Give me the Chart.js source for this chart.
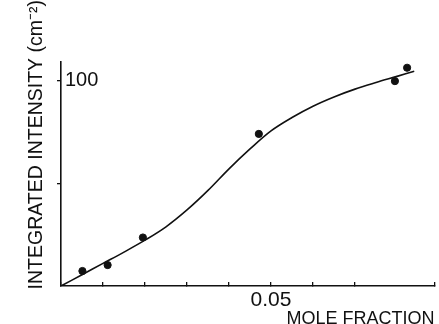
<!DOCTYPE html>
<html>
<head>
<meta charset="utf-8">
<script src="https://cdn.jsdelivr.net/npm/chart.js@4/dist/chart.umd.min.js"></script>
<style>
  html, body { margin: 0; padding: 0; background: #fff; }
  #wrap { width: 439px; height: 324px; }
</style>
</head>
<body>
<div id="wrap"><canvas id="chart"></canvas></div>
<script>
// measured points
const moleFraction = [0.0051, 0.0111, 0.0195, 0.0471, 0.0795, 0.0824];
const intensity = [7.3, 10.2, 23.6, 74, 99.7, 106.2];

// hand-drawn curve through the data
const curveX = [0, 0.005, 0.01, 0.015, 0.02, 0.025, 0.03, 0.035, 0.04, 0.045, 0.05, 0.055, 0.06, 0.065, 0.07, 0.075, 0.08, 0.0841];
const curveY = [0, 5.5, 11, 16.5, 22.3, 28.8, 37, 46.5, 57, 66.7, 75.5, 82, 87.5, 92, 95.8, 99, 102, 104.5];

// tick marks and the labels that are printed
const yTicks = [50, 100];
const xLabels = [0.05];
const yLabels = [100];

const font = 'Liberation Sans, Arial, Helvetica, sans-serif';
const ink = '#111';

const near = (a, b) => Math.abs(a - b) < 1e-9;

new Chart(document.getElementById('chart'), {
  type: 'scatter',
  data: {
    datasets: [
      {
        type: 'line',
        data: curveX.map((x, i) => ({ x, y: curveY[i] })),
        borderColor: ink,
        borderWidth: 1.6,
        pointRadius: 0,
        tension: 0.35,
        fill: false,
      },
      {
        data: moleFraction.map((x, i) => ({ x, y: intensity[i] })),
        backgroundColor: ink,
        borderColor: ink,
        pointRadius: 3.6,
        pointHoverRadius: 3.6,
      },
    ],
  },
  options: {
    responsive: true,
    maintainAspectRatio: false,
    animation: false,
    layout: { padding: 0 },
    plugins: {
      legend: { display: false },
      tooltip: { enabled: false },
      title: {
        display: true,
        position: 'left',
        align: 'end',
        text: 'INTEGRATED INTENSITY (cm\u207B\u00B2)',
        color: ink,
        font: { family: font, size: 19.5, weight: 'normal' },
        padding: { top: 25, bottom: 0 },
      },
      // empty box that keeps the plot below the top margin
      subtitle: {
        display: true,
        position: 'top',
        fullSize: false,
        text: ' ',
        font: { size: 10, lineHeight: 1 },
        padding: { top: 52, bottom: 0 },
      },
    },
    scales: {
      x: {
        type: 'linear',
        min: 0,
        max: 0.0889,
        afterFit: (s) => { s.height = 38; s.paddingLeft = 0; s.paddingRight = 0; },
        border: { display: true, color: ink, width: 1.6 },
        grid: { drawOnChartArea: false, drawTicks: true, tickLength: -4, color: ink, lineWidth: 1.3 },
        ticks: {
          stepSize: 0.01,
          padding: 6,
          autoSkip: false,
          maxRotation: 0,
          minRotation: 0,
          color: ink,
          font: { family: font, size: 21 },
          callback: (v) => (xLabels.some((t) => near(t, v)) ? '0.05' : ''),
        },
        title: {
          display: true,
          align: 'end',
          text: 'MOLE FRACTION',
          color: ink,
          font: { family: font, size: 18 },
          padding: { top: 0, bottom: -6 },
        },
      },
      y: {
        type: 'linear',
        min: 0,
        max: 109,
        afterFit: (s) => { s.width = 12.6; },
        afterBuildTicks: (s) => { s.ticks = yTicks.map((value) => ({ value })); },
        border: { display: true, color: ink, width: 1.6 },
        grid: { drawOnChartArea: false, drawTicks: true, tickLength: 4, color: ink, lineWidth: 1.3 },
        ticks: {
          mirror: true,
          padding: 4,
          color: ink,
          font: { family: font, size: 20 },
          callback: (v) => (yLabels.includes(v) ? String(v) : ''),
        },
      },
    },
  },
});
</script>
</body>
</html>
